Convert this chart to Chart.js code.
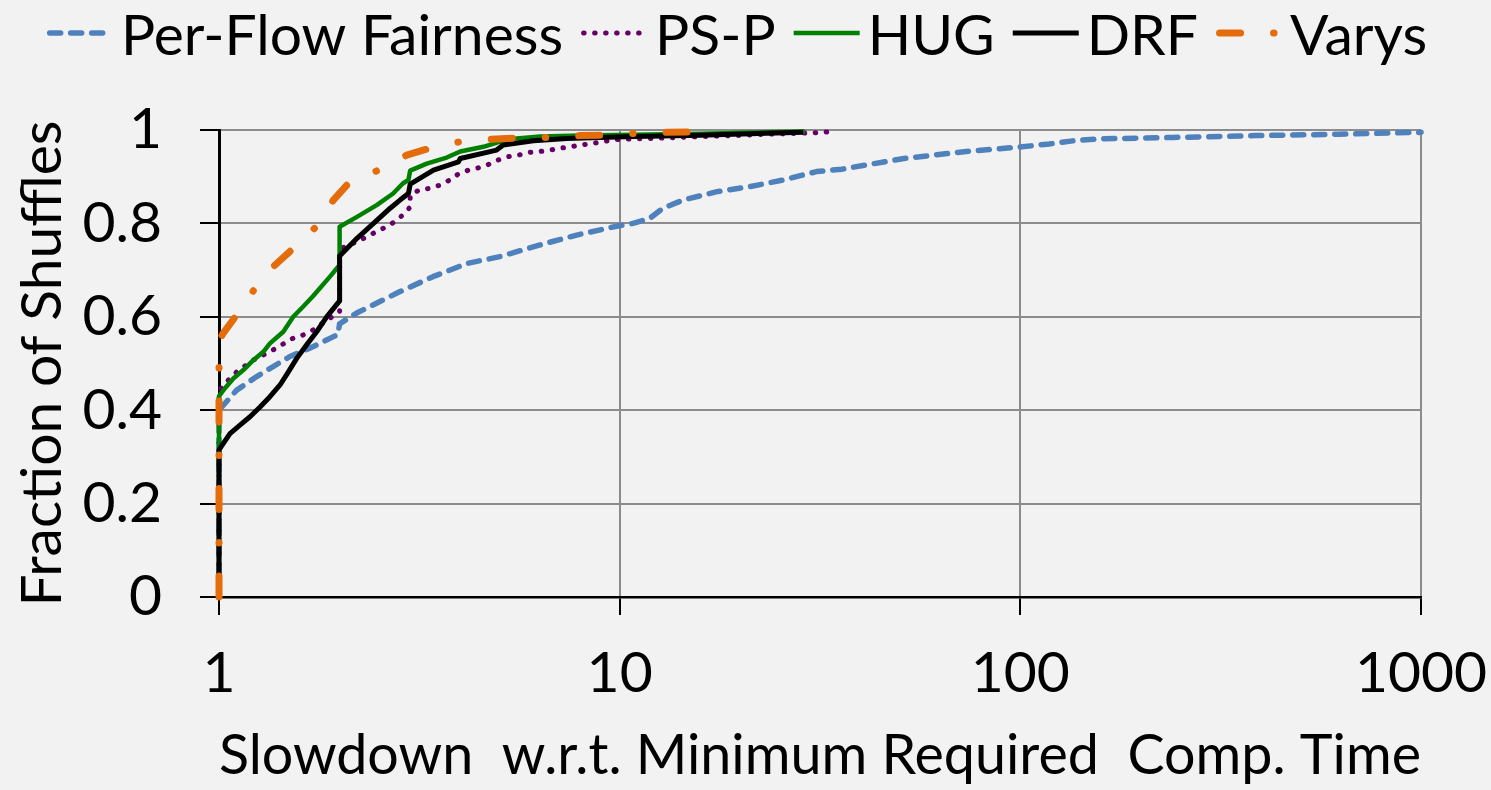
<!DOCTYPE html>
<html>
<head>
<meta charset="utf-8">
<script src="https://cdn.jsdelivr.net/npm/chart.js@4.4.1/dist/chart.umd.min.js"></script>
<style>
html,body{margin:0;padding:0;background:#f2f2f2;}
#wrap{width:1491px;height:790px;position:relative;}
</style>
</head>
<body>
<div id="wrap"><canvas id="c"></canvas></div>
<script>
// ---------- data ----------
const seriesNames = ['Per-Flow Fairness', 'PS-P', 'HUG', 'DRF', 'Varys'];

const perFlowX = [1, 1, 1.107, 1.242, 1.503, 1.687, 1.925, 1.98, 2.0, 2.206, 2.566, 2.83, 3.42, 4.15, 5.03, 6.33, 7.81, 9.83, 10.8, 11.9, 12.8, 14.4, 17.5, 21.2, 25.6, 31.0, 35.8, 51.2, 73.2, 101, 118, 136, 157, 240, 387, 624, 1000];
const perFlowY = [0, 0.40, 0.443, 0.472, 0.515, 0.533, 0.557, 0.562, 0.585, 0.608, 0.636, 0.654, 0.686, 0.714, 0.729, 0.754, 0.775, 0.794, 0.800, 0.811, 0.832, 0.850, 0.868, 0.879, 0.893, 0.911, 0.916, 0.939, 0.954, 0.964, 0.970, 0.977, 0.981, 0.984, 0.988, 0.991, 0.995];

const pspX = [1, 1, 1.025, 1.107, 1.216, 1.364, 1.53, 1.62, 1.717, 1.892, 1.98, 2.0, 2.0, 2.12, 2.25, 2.38, 2.52, 2.64, 2.78, 2.91, 3.0, 3.0, 3.17, 3.36, 3.56, 3.77, 3.96, 4.19, 4.44, 4.70, 4.98, 5.27, 5.58, 5.92, 6.33, 6.70, 7.10, 7.52, 8.04, 8.51, 9.10, 9.64, 10.8, 13.1, 15.9, 19.2, 23.3, 30.7, 33.0];
const pspY = [0, 0.44, 0.454, 0.482, 0.507, 0.529, 0.554, 0.561, 0.572, 0.597, 0.609, 0.612, 0.745, 0.754, 0.764, 0.775, 0.786, 0.794, 0.807, 0.822, 0.835, 0.861, 0.872, 0.875, 0.882, 0.893, 0.906, 0.914, 0.919, 0.926, 0.936, 0.943, 0.946, 0.952, 0.954, 0.957, 0.961, 0.964, 0.968, 0.971, 0.975, 0.979, 0.981, 0.983, 0.986, 0.988, 0.991, 0.994, 0.996];

const hugX = [1, 1, 1.035, 1.086, 1.15, 1.218, 1.29, 1.34, 1.447, 1.532, 1.623, 1.72, 1.892, 2.0, 2.0, 2.21, 2.475, 2.72, 2.88, 2.97, 3.0, 3.30, 3.70, 4.0, 4.57, 5.03, 5.53, 6.33, 8.0, 10.8, 15.9, 23.3, 29.0];
const hugY = [0, 0.43, 0.447, 0.468, 0.486, 0.507, 0.525, 0.543, 0.568, 0.600, 0.622, 0.645, 0.686, 0.711, 0.793, 0.814, 0.839, 0.864, 0.886, 0.893, 0.913, 0.928, 0.941, 0.954, 0.964, 0.975, 0.982, 0.986, 0.988, 0.990, 0.992, 0.995, 0.997];

const drfX = [1, 1, 1.065, 1.128, 1.195, 1.266, 1.34, 1.42, 1.49, 1.563, 1.655, 1.753, 1.857, 2.0, 2.0, 2.21, 2.43, 2.67, 2.83, 2.97, 3.0, 3.43, 3.96, 4.0, 4.93, 5.12, 6.09, 7.38, 10.8, 15.9, 23.3, 28.7];
const drfY = [0, 0.315, 0.350, 0.368, 0.386, 0.407, 0.429, 0.454, 0.482, 0.511, 0.540, 0.568, 0.600, 0.634, 0.730, 0.768, 0.800, 0.832, 0.850, 0.864, 0.884, 0.914, 0.932, 0.939, 0.957, 0.968, 0.977, 0.982, 0.986, 0.989, 0.993, 0.995];

const varysX = [1, 1, 1.025, 1.107, 1.23, 1.38, 1.548, 1.753, 1.929, 2.12, 2.50, 2.94, 3.36, 4.0, 4.79, 5.58, 6.64, 7.96, 9.28, 11.0, 13.1, 15.4];
const varysY = [0, 0.55, 0.565, 0.604, 0.661, 0.711, 0.750, 0.794, 0.850, 0.889, 0.914, 0.946, 0.961, 0.975, 0.980, 0.983, 0.984, 0.988, 0.989, 0.993, 0.995, 0.996];

const xTickValues = [1, 10, 100, 1000];
const yTickValues = [0, 0.2, 0.4, 0.6, 0.8, 1];
const yTickLabels = ['0', '0.2', '0.4', '0.6', '0.8', '1'];
const xTitle = 'Slowdown  w.r.t. Minimum Required  Comp. Time';
const yTitle = 'Fraction of Shuffles';

// ---------- build ----------
const toPts = (xs, ys) => xs.map((x, i) => ({x: x, y: ys[i]}));
const FONT = 'Lato, "Open Sans", sans-serif';
const FS = 57;

const styles = [
  {color: '#4f81bd', width: 5.5, dash: [11, 10],          cap: 'round', order: 5},
  {color: '#660066', width: 5,   dash: [0.5, 10.5],       cap: 'round', order: 4},
  {color: '#008000', width: 4.5, dash: [],                cap: 'butt',  order: 3},
  {color: '#000000', width: 5,   dash: [],                cap: 'butt',  order: 2},
  {color: '#e46c0a', width: 7,   dash: [21, 33, 0.5, 33], cap: 'round', order: 1}
];
const seriesPts = [toPts(perFlowX, perFlowY), toPts(pspX, pspY), toPts(hugX, hugY), toPts(drfX, drfY), toPts(varysX, varysY)];

const datasets = seriesNames.map((name, i) => ({
  label: name,
  data: seriesPts[i],
  borderColor: styles[i].color,
  backgroundColor: styles[i].color,
  borderWidth: styles[i].width,
  borderDash: styles[i].dash,
  borderCapStyle: styles[i].cap,
  borderJoinStyle: 'round',
  pointRadius: 0,
  pointHoverRadius: 0,
  tension: 0,
  fill: false,
  clip: false,
  order: styles[i].order
}));

const topLegend = {
  id: 'topLegend',
  afterDraw(chart) {
    const ctx = chart.ctx;
    const ds = chart.data.datasets;
    const sampleW = 66, gapIn = 8, gapOut = 18, lineY = 33, textY = 55, centerX = 737;
    ctx.save();
    ctx.font = FS + 'px ' + FONT;
    const widths = ds.map(d => ctx.measureText(d.label).width);
    let total = 0;
    ds.forEach((d, i) => { total += sampleW + gapIn + widths[i]; });
    total += gapOut * (ds.length - 1);
    let x = centerX - total / 2;
    ds.forEach((d, i) => {
      ctx.save();
      ctx.strokeStyle = d.borderColor;
      ctx.lineWidth = d.borderWidth;
      ctx.lineCap = d.borderCapStyle;
      ctx.setLineDash(d.borderDash || []);
      const inset = d.borderCapStyle === 'round' ? d.borderWidth / 2 : 0;
      ctx.beginPath();
      ctx.moveTo(x + inset, lineY);
      ctx.lineTo(x + sampleW - inset, lineY);
      ctx.stroke();
      ctx.restore();
      ctx.fillStyle = '#000';
      ctx.textBaseline = 'alphabetic';
      ctx.textAlign = 'left';
      ctx.fillText(d.label, x + sampleW + gapIn, textY);
      x += sampleW + gapIn + widths[i] + gapOut;
    });
    ctx.restore();
  }
};

Chart.defaults.font.family = FONT;
Chart.defaults.color = '#000';

new Chart(document.getElementById('c'), {
  type: 'line',
  data: {datasets: datasets},
  plugins: [topLegend],
  options: {
    responsive: true,
    maintainAspectRatio: false,
    animation: false,
    events: [],
    layout: {padding: {top: 130, right: 70, left: 0, bottom: 0}},
    plugins: {legend: {display: false}, tooltip: {enabled: false}},
    scales: {
      x: {
        type: 'logarithmic',
        min: 1, max: 1000,
        afterBuildTicks: s => { s.ticks = xTickValues.map(v => ({value: v})); },
        afterFit: s => { s.height = 193; s.paddingRight = 0; s.paddingLeft = 0; },
        ticks: {
          font: {size: FS}, color: '#000', padding: 24, maxRotation: 0, autoSkip: false,
          callback: v => String(v)
        },
        grid: {color: '#8c8c8c', lineWidth: 2, tickColor: '#000', tickWidth: 2, tickLength: 18, drawTicks: true},
        border: {display: true, color: '#000', width: 2.5},
        title: {display: true, text: xTitle, font: {size: FS}, color: '#000', padding: {top: 0, bottom: 0}}
      },
      y: {
        type: 'linear',
        min: 0, max: 1,
        afterBuildTicks: s => { s.ticks = yTickValues.map(v => ({value: v})); },
        afterFit: s => { s.width = 219; },
        ticks: {
          font: {size: FS}, color: '#000', padding: 38,
          callback: (v, i) => yTickLabels[yTickValues.indexOf(v)] ?? String(v)
        },
        grid: {color: '#8c8c8c', lineWidth: 2, tickColor: '#000', tickWidth: 2, tickLength: 19, drawTicks: true},
        border: {display: true, color: '#000', width: 3},
        title: {display: true, text: yTitle, font: {size: FS}, color: '#000', padding: {top: 8, bottom: 0}}
      }
    }
  }
});
</script>
</body>
</html>
